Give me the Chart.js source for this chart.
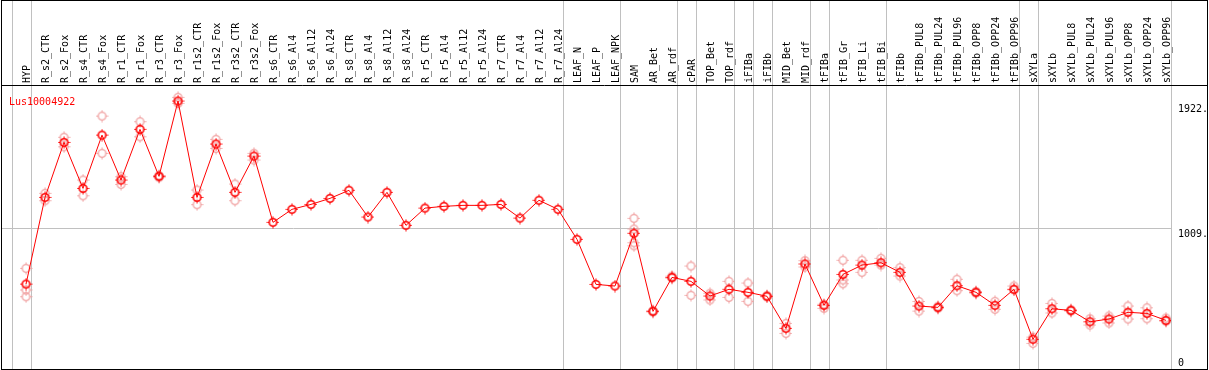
<!DOCTYPE html>
<html>
<head>
<meta charset="utf-8">
<title>Lus10004922</title>
<script src="https://cdn.jsdelivr.net/npm/chart.js@4"></script>
<style>
  body { margin: 0; background: #fff; }
  canvas { display: block; }
</style>
</head>
<body>
<canvas id="exprChart" width="1209" height="370"></canvas>
<script>
// Tissue / treatment categories (x axis, read top to bottom in the header)
const categories = [
    'HYP', 'R_s2_CTR', 'R_s2_Fox', 'R_s4_CTR', 'R_s4_Fox', 'R_r1_CTR', 'R_r1_Fox',
    'R_r3_CTR', 'R_r3_Fox', 'R_r1s2_CTR', 'R_r1s2_Fox', 'R_r3s2_CTR', 'R_r3s2_Fox',
    'R_s6_CTR', 'R_s6_Al4', 'R_s6_Al12', 'R_s6_Al24', 'R_s8_CTR', 'R_s8_Al4', 'R_s8_Al12',
    'R_s8_Al24', 'R_r5_CTR', 'R_r5_Al4', 'R_r5_Al12', 'R_r5_Al24', 'R_r7_CTR', 'R_r7_Al4',
    'R_r7_Al12', 'R_r7_Al24', 'LEAF_N', 'LEAF_P', 'LEAF_NPK', 'SAM', 'AR_Bet', 'AR_rdf',
    'cPAR', 'TOP_Bet', 'TOP_rdf', 'iFIBa', 'iFIBb', 'MID_Bet', 'MID_rdf', 'tFIBa',
    'tFIB_Gr', 'tFIB_Li', 'tFIB_Bi', 'tFIBb', 'tFIBb_PUL8', 'tFIBb_PUL24', 'tFIBb_PUL96',
    'tFIBb_OPP8', 'tFIBb_OPP24', 'tFIBb_OPP96', 'sXYLa', 'sXYLb', 'sXYLb_PUL8',
    'sXYLb_PUL24', 'sXYLb_PUL96', 'sXYLb_OPP8', 'sXYLb_OPP24', 'sXYLb_OPP96'
];

// Mean expression per category
const meanValues = [
    602, 1235, 1637, 1301, 1690, 1362, 1732, 1389, 1939, 1235, 1625, 1272, 1537,
    1053, 1148, 1184, 1228, 1287, 1092, 1272, 1031, 1157, 1170, 1177, 1177, 1184, 1084,
    1214, 1148, 929, 600, 588, 973, 403, 651, 622, 515, 564, 542, 513, 279, 749, 447,
    673, 741, 758, 688, 442, 432, 590, 542, 447, 564, 199, 422, 410, 327, 347, 396, 388, 337
];

// Replicates (null where hidden behind the mean marker)
const rep1 = [
    717, 1265, 1674, 1362, 1829, 1386, 1788, 1395, 1966, 1289, 1659, 1333, 1557,
    null, null, null, null, null, null, null, null, null, null, null, null, null, null,
    null, null, null, null, null, 1082, 408, 660, 734, 535, 622, 610, 518, 315, 773, 455,
    776, 776, 790, 722, 475, 440, 637, 548, 476, 588, 215, 461, 416, 349, 369, 442, 429, 354
];
const rep2 = [
    510, 1211, 1605, 1247, 1557, 1330, 1678, 1380, 1922, 1182, 1593, 1211, 1508,
    null, null, null, null, null, null, null, null, null, null, null, null, null, null,
    null, null, null, null, null, 882, 398, 645, 520, 486, 505, 476, 508, 242, 727, 425,
    605, 688, 741, 661, 405, 425, 554, 536, 418, 560, 169, 391, 404, 303, 318, 347, 349, 330
];
const rep3 = [559, null, null, null, null, null, null, null, null, null, null, null, null,
    null, null, null, null, null, null, null, null, null, null, null, null, null, null,
    null, null, null, null, null, 1004, null, null, null, null, null, null, null, null, null, null,
    632, null, null, null, null, null, null, null, null, null, null, null, null, null, null, null, null, null];
const rep4 = [null, null, null, null, null, null, null, null, null, null, null, null, null,
    null, null, null, null, null, null, null, null, null, null, null, null, null, null,
    null, null, null, null, null, 904, null, null, null, null, null, null, null, null, null, null,
    null, null, null, null, null, null, null, null, null, null, null, null, null, null, null, null, null, null];

const yTickValues = [0, 1009, 1922];
const gridValues = [1009];
// vertical separators between sample groups (in category units)
const groupBreaks = [-0.75, 0.25, 28.25, 31.25, 34.25, 35.25, 37.25, 38.25, 39.25,
    41.25, 42.25, 45.25, 52.25, 53.25, 60.25];
const geneName = 'Lus10004922';

const FONT = '10px "DejaVu Sans Mono", "Liberation Mono", monospace';

function toPoints(values) {
    return values.map((v, i) => (v === null ? null : { x: i, y: v })).filter(p => p);
}

// small circle marker with tick marks, as in the original plot
function makeMarker(color, width) {
    const c = document.createElement('canvas');
    c.width = 13;
    c.height = 13;
    const g = c.getContext('2d');
    g.strokeStyle = color;
    g.lineWidth = width;
    g.beginPath();
    g.arc(6.5, 6.5, 3.8, 0, Math.PI * 2);
    g.stroke();
    g.lineWidth = 1;
    g.beginPath();
    g.moveTo(6.5, 0.5); g.lineTo(6.5, 2.5);
    g.moveTo(6.5, 10.5); g.lineTo(6.5, 12.5);
    g.moveTo(0.5, 6.5); g.lineTo(2.5, 6.5);
    g.moveTo(10.5, 6.5); g.lineTo(12.5, 6.5);
    g.stroke();
    return c;
}

const mainMarker = makeMarker('#ff0000', 1.6);
const repMarker = makeMarker('#f0a0a0', 1.3);

const framePlugin = {
    id: 'framePlugin',
    beforeDatasetsDraw(chart) {
        const ctx = chart.ctx;
        const xs = chart.scales.x;
        const ys = chart.scales.y;
        const area = chart.chartArea;
        ctx.save();

        // group separators, full height
        ctx.strokeStyle = '#c0c0c0';
        ctx.lineWidth = 1;
        groupBreaks.forEach(b => {
            const x = Math.round(xs.getPixelForValue(b)) + 0.5;
            ctx.beginPath();
            ctx.moveTo(x, 0);
            ctx.lineTo(x, chart.height);
            ctx.stroke();
        });

        // horizontal grid
        gridValues.forEach(v => {
            const y = Math.round(ys.getPixelForValue(v)) + 0.5;
            ctx.beginPath();
            ctx.moveTo(area.left, y);
            ctx.lineTo(area.right, y);
            ctx.stroke();
        });

        // category labels, rotated
        ctx.fillStyle = '#000';
        ctx.font = FONT;
        ctx.textAlign = 'left';
        ctx.textBaseline = 'alphabetic';
        categories.forEach((name, i) => {
            const x = xs.getPixelForValue(i);
            ctx.save();
            ctx.translate(x + 4, 83);
            ctx.rotate(-Math.PI / 2);
            ctx.fillText(name, 0, 0);
            ctx.restore();
        });

        // value labels on the right
        yTickValues.forEach(v => {
            const y = ys.getPixelForValue(v);
            const label = v === 0 ? '0' : v + '.';
            if (y + 11 > area.bottom) {
                ctx.textBaseline = 'bottom';
                ctx.fillText(label, 1178, area.bottom - 1);
            } else {
                ctx.textBaseline = 'top';
                ctx.fillText(label, 1178, y + 1);
            }
        });

        // gene name
        ctx.fillStyle = '#ff0000';
        ctx.textBaseline = 'alphabetic';
        ctx.fillText(geneName, 9, 105);
        ctx.restore();
    },
    afterDraw(chart) {
        const ctx = chart.ctx;
        ctx.save();
        ctx.strokeStyle = '#000';
        ctx.lineWidth = 1;
        ctx.strokeRect(1.5, 0.5, 1206, 369);
        ctx.beginPath();
        ctx.moveTo(1, 85.5);
        ctx.lineTo(1208, 85.5);
        ctx.stroke();
        ctx.restore();
    }
};

const repStyle = {
    showLine: false,
    pointStyle: repMarker,
    pointRadius: 6,
    order: 2
};

const ctx = document.getElementById('exprChart').getContext('2d');
const exprChart = new Chart(ctx, {
    type: 'scatter',
    data: {
        datasets: [
            {
                label: geneName,
                data: toPoints(meanValues),
                showLine: true,
                borderColor: '#ff0000',
                borderWidth: 1,
                pointStyle: mainMarker,
                pointRadius: 6,
                order: 1
            },
            Object.assign({ label: 'rep1', data: toPoints(rep1) }, repStyle),
            Object.assign({ label: 'rep2', data: toPoints(rep2) }, repStyle),
            Object.assign({ label: 'rep3', data: toPoints(rep3) }, repStyle),
            Object.assign({ label: 'rep4', data: toPoints(rep4) }, repStyle)
        ]
    },
    options: {
        responsive: false,
        animation: false,
        layout: {
            autoPadding: false,
            padding: { left: 1, right: 38, top: 85, bottom: 1 }
        },
        plugins: {
            legend: { display: false },
            tooltip: { enabled: false }
        },
        scales: {
            x: {
                type: 'linear',
                display: false,
                min: -1.3158,
                max: 60.2632
            },
            y: {
                display: false,
                min: -18,
                max: 2056
            }
        }
    },
    plugins: [framePlugin]
});
</script>
</body>
</html>
